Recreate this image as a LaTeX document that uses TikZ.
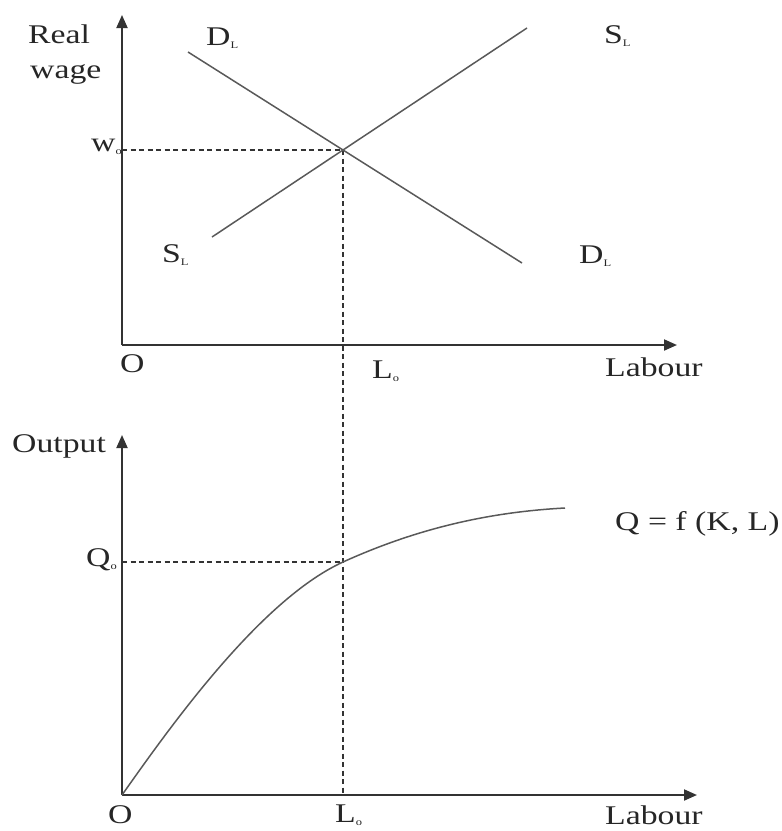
\documentclass[tikz,border=0pt]{standalone}
\usepackage{fontspec}
\setmainfont{Liberation Serif}
\usetikzlibrary{arrows.meta}
\newcommand\hs[1]{\scalebox{1.25}[1]{#1}}
\newcommand\sbs[1]{\raisebox{-3pt}{\fontsize{10}{10}\selectfont #1}}
\tikzset{
  lbl/.style={font=\fontsize{27}{30}\selectfont, inner sep=0pt, anchor=base west, text=black!85},
  axisline/.style={line width=2pt, draw=black!80, -{Triangle[length=13pt,width=11pt]}},
  curveline/.style={line width=1.5pt, draw=black!65},
  guide/.style={line width=1.5pt, draw=black!80, dash pattern=on 5pt off 3.5pt}
}
\begin{document}
\begin{tikzpicture}[x=1pt,y=-1pt]
\useasboundingbox (0,0) rectangle (782,831);
% ---- top panel ----
\coordinate (O1) at (122,345);
\coordinate (Y1) at (122,15);
\coordinate (X1) at (677,345);
\coordinate (E) at (343,150);
\coordinate (W0) at (122,150);
\coordinate (Dstart) at (188,52);
\coordinate (Dend) at (522,263);
\coordinate (Sstart) at (212,237);
\coordinate (Send) at (527,28);
% ---- bottom panel ----
\coordinate (O2) at (122,795);
\coordinate (Y2) at (122,435);
\coordinate (X2) at (697,795);
\coordinate (P) at (343,562);
\coordinate (Q0) at (122,562);
\coordinate (Fend) at (565,508);

% guides
\draw[guide] (W0) -- (E);
\draw[guide] (E) -- (O2 -| E);
\draw[guide] (Q0) -- (P);

% axes
\draw[axisline] (O1) -- (Y1);
\draw[axisline] (O1) -- (X1);
\draw[axisline] (O2) -- (Y2);
\draw[axisline] (O2) -- (X2);

% curves
\draw[curveline] (Dstart) -- (E) -- (Dend);
\draw[curveline] (Sstart) -- (E) -- (Send);
\draw[curveline] (O2) .. controls (170,727) and (260,600) .. (P)
                      .. controls (418,528) and (490,512) .. (Fend);

% labels top
\node[lbl] (real) at (28,43) {\hs{Real}};
\node[lbl] (wage) at (30,78) {\hs{wage}};
\node[lbl] (dl1) at (206,45) {\hs{D\sbs{L}}};
\node[lbl] (sl1) at (604,43) {\hs{S\sbs{L}}};
\node[lbl] (w0) at (91,151) {\hs{w\sbs{o}}};
\node[lbl] (sl2) at (162,262) {\hs{S\sbs{L}}};
\node[lbl] (dl2) at (579,263) {\hs{D\sbs{L}}};
\node[lbl] (o1) at (120,372) {\hs{O}};
\node[lbl] (l01) at (372,378) {\hs{L\sbs{o}}};
\node[lbl] (lab1) at (605,376) {\hs{Labour}};
% labels bottom
\node[lbl] (out) at (12,452) {\hs{Output}};
\node[lbl] (q0) at (86,566) {\hs{Q\sbs{o}}};
\node[lbl] (qf) at (615,530) {\hs{Q = f (K, L)}};
\node[lbl] (o2) at (108,823) {\hs{O}};
\node[lbl] (l02) at (335,822) {\hs{L\sbs{o}}};
\node[lbl] (lab2) at (605,824) {\hs{Labour}};
\end{tikzpicture}
\end{document}
